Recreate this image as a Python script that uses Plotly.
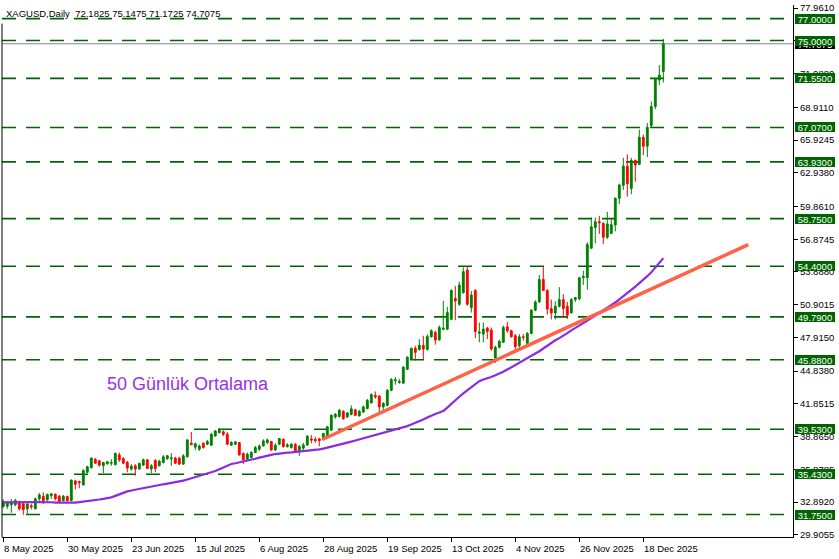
import plotly.graph_objects as go

# ---------------- data ----------------
bar_index = list(range(166))

opens = [32.50, 32.51, 32.64, 32.64, 32.88, 32.73, 32.27, 32.55, 32.27, 33.18,
         33.42, 33.09, 33.48, 33.60, 33.42, 33.03, 33.39, 33.03, 34.81, 34.75,
         34.45, 35.60, 36.02, 36.80, 36.65, 36.20, 36.38, 36.44, 36.29, 37.20,
         36.86, 36.50, 35.90, 36.20, 35.90, 36.26, 36.74, 35.90, 36.68, 36.20,
         36.50, 36.86, 36.83, 36.90, 36.90, 36.35, 37.02, 38.26, 37.90, 37.71,
         38.26, 38.17, 38.08, 38.92, 39.22, 39.31, 39.07, 38.08, 38.17, 38.32,
         37.32, 36.80, 36.96, 37.41, 37.71, 38.01, 38.32, 38.41, 37.65, 38.17,
         38.62, 37.95, 37.86, 38.17, 37.47, 37.80, 38.10, 38.65, 38.60, 38.65,
         38.60, 38.85, 39.45, 40.66, 40.70, 41.17, 40.66, 40.90, 41.30, 40.75,
         41.10, 41.42, 41.93, 42.62, 42.56, 41.57, 41.72, 43.08, 43.95, 43.80,
         43.74, 45.00, 45.95, 46.92, 46.80, 47.20, 46.82, 47.97, 48.37, 47.70,
         48.66, 48.66, 49.57, 51.48, 50.94, 52.00, 54.05, 50.63, 52.20, 48.30,
         48.22, 48.76, 48.58, 46.04, 47.01, 47.46, 48.88, 48.52, 48.07, 47.16,
         47.97, 47.37, 48.28, 50.39, 51.15, 53.20, 52.20, 50.55, 50.15, 50.76,
         51.36, 50.76, 50.15, 51.36, 51.43, 53.36, 53.36, 56.05, 57.95, 58.47,
         58.32, 57.05, 57.40, 58.17, 60.61, 61.79, 63.54, 61.49, 64.06, 63.70,
         66.17, 65.36, 67.26, 68.98, 71.40, 72.1825]
highs = [33.12, 33.00, 33.18, 33.18, 33.00, 32.88, 32.90, 32.73, 33.30, 33.72,
         33.78, 33.66, 33.72, 33.66, 33.54, 33.54, 33.48, 34.93, 34.93, 34.84,
         35.90, 36.20, 36.96, 36.90, 36.74, 36.56, 36.65, 36.80, 37.41, 37.41,
         36.96, 36.65, 36.35, 36.35, 36.50, 36.86, 36.80, 36.35, 36.80, 36.74,
         37.17, 37.17, 37.35, 37.02, 37.02, 37.26, 38.62, 39.28, 38.32, 38.14,
         38.32, 38.56, 39.22, 39.46, 39.64, 39.43, 39.28, 38.44, 38.47, 38.38,
         37.41, 37.41, 37.53, 38.01, 38.14, 38.62, 38.68, 38.47, 38.26, 38.74,
         38.68, 38.26, 38.26, 38.26, 38.10, 38.30, 39.00, 39.00, 38.85, 38.75,
         39.20, 39.85, 40.90, 41.00, 41.40, 41.26, 41.10, 41.70, 41.40, 41.30,
         41.70, 42.30, 42.80, 42.98, 42.65, 42.00, 43.20, 44.20, 44.29, 44.14,
         45.30, 46.20, 47.00, 47.15, 47.75, 48.07, 48.20, 48.65, 48.52, 49.00,
         51.24, 50.70, 52.30, 52.60, 53.00, 54.30, 54.38, 52.14, 52.30, 49.27,
         49.27, 48.88, 48.82, 47.16, 47.70, 49.00, 49.33, 48.60, 48.22, 48.22,
         48.22, 48.40, 50.50, 51.30, 53.60, 54.35, 52.30, 51.36, 51.20, 52.50,
         51.85, 51.15, 51.50, 51.60, 53.45, 54.00, 56.60, 58.86, 58.86, 59.00,
         58.40, 59.37, 58.70, 60.67, 61.94, 64.30, 64.60, 64.30, 64.15, 66.87,
         66.42, 67.47, 69.44, 71.55, 72.76, 75.1475]
lows = [32.33, 32.27, 31.91, 32.51, 32.12, 31.73, 31.82, 32.21, 32.21, 32.99,
        32.70, 33.00, 33.18, 33.03, 32.88, 32.94, 32.94, 32.94, 34.03, 34.15,
        34.39, 35.54, 35.96, 36.38, 36.11, 35.54, 36.30, 36.20, 36.26, 36.56,
        36.35, 35.60, 35.75, 35.30, 35.84, 36.20, 35.90, 35.54, 35.60, 36.14,
        36.41, 36.74, 36.20, 36.35, 36.26, 36.29, 36.96, 38.10, 37.65, 37.56,
        37.77, 38.08, 38.01, 38.86, 39.16, 38.92, 38.08, 38.01, 38.08, 37.11,
        36.35, 36.65, 36.86, 37.35, 37.56, 37.96, 38.17, 37.56, 37.56, 38.08,
        37.86, 37.86, 37.77, 37.47, 37.10, 37.60, 38.00, 38.25, 38.30, 37.98,
        38.50, 38.80, 39.40, 40.50, 40.60, 40.40, 40.55, 40.80, 40.75, 40.70,
        41.00, 41.35, 41.90, 42.32, 41.10, 41.30, 41.60, 43.00, 43.60, 43.68,
        43.70, 44.95, 45.90, 45.80, 46.70, 45.90, 46.70, 47.90, 47.25, 47.60,
        48.55, 48.57, 49.48, 49.48, 50.80, 51.90, 50.80, 50.18, 47.85, 47.46,
        47.46, 47.76, 46.70, 45.58, 46.90, 47.40, 48.34, 47.90, 46.76, 46.95,
        47.61, 47.30, 48.20, 50.30, 51.08, 52.14, 50.00, 49.55, 49.55, 50.64,
        49.80, 49.60, 50.10, 51.15, 51.30, 52.70, 52.27, 55.99, 56.50, 57.35,
        56.45, 56.90, 57.35, 57.59, 60.07, 61.37, 60.76, 60.98, 62.12, 63.64,
        64.54, 64.36, 67.08, 68.74, 70.95, 71.1725]
closes = [32.94, 32.82, 32.88, 33.03, 32.27, 32.21, 32.70, 32.45, 33.18, 33.54,
          33.03, 33.57, 33.63, 33.18, 32.94, 33.42, 33.00, 34.90, 34.51, 34.66,
          35.75, 36.11, 36.90, 36.44, 36.26, 36.50, 36.56, 36.50, 37.32, 36.74,
          36.44, 35.99, 36.17, 35.90, 36.41, 36.74, 35.96, 36.20, 35.96, 36.62,
          37.02, 37.11, 36.92, 36.44, 36.35, 37.11, 38.56, 38.11, 38.20, 38.01,
          37.86, 38.41, 39.07, 39.37, 39.43, 39.07, 38.17, 38.32, 38.38, 37.20,
          36.74, 37.26, 37.41, 37.86, 38.01, 38.47, 38.56, 37.65, 38.08, 38.68,
          37.95, 38.11, 38.17, 37.56, 37.95, 38.10, 38.90, 38.55, 38.50, 38.50,
          39.15, 39.75, 40.80, 40.90, 41.26, 40.50, 41.02, 41.40, 40.80, 41.17,
          41.57, 42.17, 42.70, 42.47, 41.57, 41.90, 43.08, 44.08, 44.05, 43.90,
          45.19, 46.10, 46.90, 46.55, 47.20, 46.85, 48.00, 48.52, 47.67, 48.82,
          48.75, 50.18, 52.20, 51.24, 52.69, 53.90, 50.94, 51.78, 48.46, 48.40,
          48.67, 48.46, 46.86, 47.01, 47.55, 48.82, 48.52, 47.97, 47.07, 47.97,
          47.91, 48.28, 50.39, 51.15, 53.20, 52.20, 50.50, 50.15, 50.76, 51.36,
          50.55, 49.95, 51.36, 51.55, 53.36, 53.48, 56.38, 58.01, 58.47, 58.38,
          57.05, 58.26, 58.20, 60.61, 61.82, 63.54, 61.94, 64.06, 63.64, 66.17,
          65.36, 67.08, 68.98, 71.49, 71.85, 74.7075]

ma50 = [32.86, 32.87, 32.88, 32.88, 32.89, 32.88, 32.87, 32.87, 32.88, 32.88, 32.89, 32.88, 32.87,
        32.83, 32.82, 32.82, 32.82, 32.83, 32.84,
        32.88, 32.92, 32.95, 33.00, 33.06, 33.12,
        33.18, 33.24, 33.32, 33.45, 33.60, 33.75,
        33.86, 33.94, 34.02, 34.08, 34.14, 34.20,
        34.28, 34.36, 34.44, 34.51, 34.57, 34.63,
        34.70, 34.77, 34.84, 34.95, 35.06, 35.16,
        35.26, 35.34, 35.44, 35.58, 35.72, 35.88,
        36.04, 36.20, 36.36, 36.43, 36.50, 36.58,
        36.66, 36.74, 36.84, 36.94, 37.04, 37.12,
        37.20, 37.27, 37.33, 37.37, 37.40, 37.43,
        37.46, 37.49, 37.53, 37.57, 37.61, 37.64,
        37.70, 37.77, 37.85, 37.94, 38.02, 38.10,
        38.20, 38.30, 38.40, 38.50, 38.60, 38.68,
        38.78, 38.88, 38.98, 39.08, 39.18, 39.26,
        39.36, 39.46, 39.56, 39.68, 39.82, 39.96,
        40.10, 40.26, 40.42, 40.60, 40.78, 40.92,
        41.06, 41.20, 41.50, 41.85, 42.20, 42.50,
        42.80, 43.10, 43.40, 43.70, 43.92, 44.08,
        44.18, 44.30, 44.45, 44.60, 44.78, 44.98,
        45.20, 45.42, 45.64, 45.86, 46.05, 46.25,
        46.45, 46.65, 46.90, 47.15,
        47.45, 47.65, 47.85, 48.05, 48.30, 48.55, 48.80, 49.00, 49.22,
        49.45, 49.65, 49.90, 50.15, 50.38, 50.60, 50.85, 51.10, 51.38, 51.65,
        51.95, 52.25, 52.55, 52.85, 53.15, 53.50, 53.85, 54.25, 54.70, 55.15]

trend_x = [79.75, 186.25]
trend_y = [38.60, 56.38]

levels = [77.0, 75.0, 71.55, 67.07, 63.93, 58.75, 54.40, 49.79, 45.88, 39.53, 35.43, 31.75]
current_price = 74.7075

x_tick_idx = [0, 16, 32, 48, 64, 80, 96, 112, 128, 144, 160]
x_tick_labels = ["8 May 2025", "30 May 2025", "23 Jun 2025", "15 Jul 2025", "6 Aug 2025",
                 "28 Aug 2025", "19 Sep 2025", "13 Oct 2025", "4 Nov 2025", "26 Nov 2025",
                 "18 Dec 2025"]

y_tick_vals = [77.9610, 74.9745, 71.9880, 68.9110, 65.9245, 62.9380, 59.8610, 56.8745,
               53.8880, 50.9015, 47.9150, 44.8380, 41.8515, 38.8650, 35.8785, 32.8920, 29.9055]
y_tick_text = ["77.9610", "74.9745", "71.9880", "68.9110", "65.9245", "62.9380", "59.8610",
               "56.8745", "53.8880", "50.9015", "47.9150", "44.8380", "41.8515", "38.8650",
               "35.8785", "32.8920", "29.9055"]

title_text = "XAGUSD,Daily\u00a0\u00a072.1825 75.1475 71.1725 74.7075"
ma_label = "50 Günlük Ortalama"

FONT = "Liberation Sans, Arial, sans-serif"
GREEN_LVL = "#006400"

fig = go.Figure()

fig.add_trace(go.Candlestick(
    x=bar_index, open=opens, high=highs, low=lows, close=closes,
    increasing=dict(line=dict(color="#008000", width=1), fillcolor="#008000"),
    decreasing=dict(line=dict(color="#FF0000", width=1), fillcolor="#FF0000"),
    whiskerwidth=0, hoverinfo="skip", showlegend=False,
))

fig.add_trace(go.Scatter(
    x=bar_index, y=ma50, mode="lines",
    line=dict(color="#8A2BE2", width=2.2), hoverinfo="skip", showlegend=False,
))

fig.add_trace(go.Scatter(
    x=trend_x, y=trend_y, mode="lines",
    line=dict(color="#FF6347", width=3.5), hoverinfo="skip", showlegend=False,
))

shapes = []
for lv in levels:
    shapes.append(dict(type="line", xref="paper", x0=0, x1=1, yref="y", y0=lv, y1=lv,
                       line=dict(color=GREEN_LVL, width=1.6, dash="14px,10px"), layer="below"))
shapes.append(dict(type="line", xref="paper", x0=0, x1=1, yref="y", y0=current_price,
                   y1=current_price, line=dict(color="#778899", width=1), layer="below"))
shapes.append(dict(type="line", xref="paper", x0=0, x1=0, yref="paper", y0=0, y1=0.965,
                   line=dict(color="black", width=1)))

annotations = []
annotations.append(dict(xref="paper", yref="paper", x=0, y=1, xanchor="left", yanchor="top",
                        xshift=2, yshift=-1, text=title_text, showarrow=False,
                        font=dict(family=FONT, size=9.5, color="black")))
# current price label (black)
annotations.append(dict(xref="paper", yref="y", x=1, y=current_price, xanchor="left",
                        yanchor="middle", xshift=2, text=f"{current_price:.4f}", showarrow=False,
                        bgcolor="black", font=dict(family=FONT, size=9.5, color="white"),
                        width=40, height=10, borderpad=0, borderwidth=0))
for lv in levels:
    annotations.append(dict(xref="paper", yref="y", x=1, y=lv, xanchor="left",
                            yanchor="middle", xshift=2, text=f"{lv:.4f}", showarrow=False,
                            bgcolor=GREEN_LVL, font=dict(family=FONT, size=9.5, color="white"),
                            width=40, height=10, borderpad=0, borderwidth=0))
for xi, lab in zip(x_tick_idx, x_tick_labels):
    annotations.append(dict(xref="x", yref="paper", x=xi, y=0, xanchor="left", yanchor="top",
                            xshift=-1, yshift=-4, text=lab, showarrow=False,
                            font=dict(family=FONT, size=9.5, color="black")))
annotations.append(dict(xref="x", yref="y", x=25.5, y=43.69, xanchor="left", yanchor="middle",
                        text=ma_label, showarrow=False,
                        font=dict(family=FONT, size=18, color="#9932E6")))

fig.update_layout(
    width=839, height=559,
    margin=dict(l=2, r=46, t=3, b=22, pad=0),
    paper_bgcolor="white", plot_bgcolor="white",
    showlegend=False, boxgap=0.35,
    shapes=shapes, annotations=annotations,
    xaxis=dict(range=[-0.325, 197.425], showgrid=False, zeroline=False,
               showline=True, linecolor="black", linewidth=1,
               ticks="outside", ticklen=4, tickcolor="black", tickwidth=1,
               tickvals=x_tick_idx, showticklabels=False,
               rangeslider=dict(visible=False), fixedrange=True),
    yaxis=dict(range=[29.70, 78.245], side="right", showgrid=False, zeroline=False,
               showline=True, linecolor="black", linewidth=1,
               ticks="outside", ticklen=4, tickcolor="black", tickwidth=1,
               tickvals=y_tick_vals, ticktext=y_tick_text,
               tickfont=dict(family=FONT, size=9.5, color="black"), fixedrange=True),
)

fig.write_html("out.html", config={"displayModeBar": False},
               post_script="document.body.style.margin='0';document.body.style.overflow='hidden';")
